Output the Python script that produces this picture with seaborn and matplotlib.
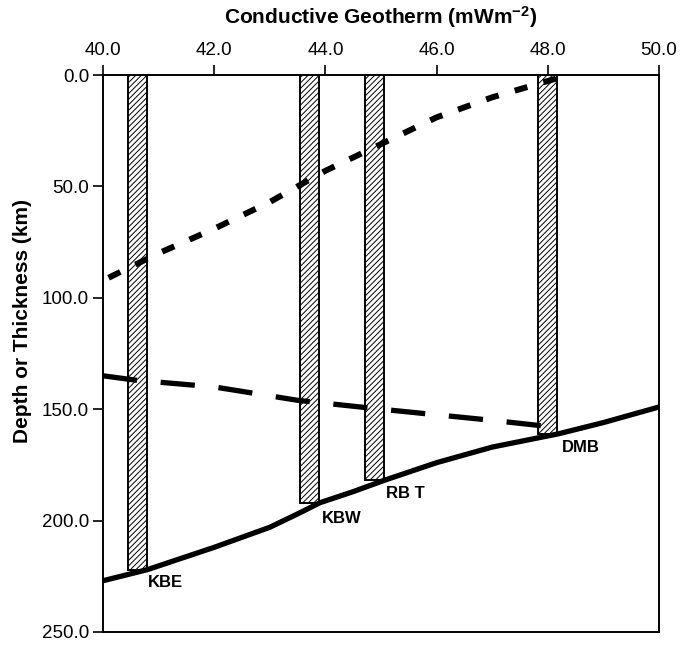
import numpy as np
import pandas as pd
import seaborn as sns
import matplotlib
matplotlib.use("Agg")
import matplotlib.pyplot as plt

# ---- data ----
bar_names = ["KBE", "KBW", "RB T", "DMB"]
bar_x = [40.62, 43.72, 44.89, 48.0]
bar_depth = [222.0, 192.0, 182.0, 161.0]

solid_x = [40.0, 40.8, 42.0, 43.0, 43.5, 43.9, 44.5, 45.05, 46.0, 47.0, 48.2, 49.0, 49.5, 50.0]
solid_y = [227.0, 222.0, 212.0, 203.0, 197.0, 192.0, 187.0, 182.0, 174.0, 167.0, 161.0, 156.0, 152.5, 149.0]

dashed_x = [40.0, 40.6, 42.0, 43.5, 45.0, 46.0, 47.0, 48.1]
dashed_y = [135.0, 137.0, 140.0, 146.0, 150.0, 152.5, 155.0, 158.0]

dotted_x = [40.1, 41.0, 42.0, 43.0, 44.0, 45.0, 46.0, 47.0, 48.3]
dotted_y = [91.0, 80.0, 69.0, 57.0, 43.0, 31.0, 19.0, 10.0, 0.5]

x_ticks = [40.0, 42.0, 44.0, 46.0, 48.0, 50.0]
y_ticks = [0.0, 50.0, 100.0, 150.0, 200.0, 250.0]
x_label = r"Conductive Geotherm (mWm$\mathbf{^{-2}}$)"
y_label = "Depth or Thickness (km)"

# ---- style ----
sns.set_style("white")
plt.rcParams["font.family"] = ["Liberation Sans", "DejaVu Sans"]
plt.rcParams["mathtext.fontset"] = "custom"
plt.rcParams["mathtext.bf"] = "Liberation Sans:bold"
plt.rcParams["mathtext.rm"] = "Liberation Sans"
plt.rcParams["hatch.linewidth"] = 0.7
plt.rcParams["hatch.color"] = "black"
for k in ["text.color", "axes.labelcolor", "xtick.color", "ytick.color"]:
    plt.rcParams[k] = "black"

fig = plt.figure(figsize=(6.92, 6.49), dpi=100)
ax = fig.add_axes([0.1488, 0.0262, 0.8035, 0.8582])

bars_df = pd.DataFrame({"x": bar_x, "depth": bar_depth, "name": bar_names})
min_gap = np.min(np.diff(sorted(bar_x)))
sns.barplot(data=bars_df, x="x", y="depth", native_scale=True, errorbar=None,
            width=0.34 / min_gap, color="white", edgecolor="black",
            linewidth=1.4, ax=ax, zorder=2)
for p in ax.patches:
    p.set_hatch("//////")
    p.set_facecolor("white")

sns.lineplot(x=solid_x, y=solid_y, sort=False, color="black", lw=3.8, ax=ax,
             solid_capstyle="butt", zorder=3)
sns.lineplot(x=dashed_x, y=dashed_y, sort=False, color="black", lw=3.8, ax=ax, zorder=3)
ax.lines[-1].set_dashes((6.5, 4.5))
ax.lines[-1].set_dash_capstyle("butt")
sns.lineplot(x=dotted_x, y=dotted_y, sort=False, color="black", lw=4.3, ax=ax, zorder=3)
ax.lines[-1].set_dashes((2.2, 2.8))
ax.lines[-1].set_dash_capstyle("butt")

label_offsets = [(0.18, 6.0), (0.22, 7.0), (0.2, 6.0), (0.25, 6.0)]
for name, x, d, (dx, dy) in zip(bar_names, bar_x, bar_depth, label_offsets):
    ax.text(x + dx, d + dy, name, fontsize=12, fontweight="bold",
            ha="left", va="center", zorder=4)

ax.set_xlim(40, 50)
ax.set_ylim(250, 0)
ax.set_xticks(x_ticks)
ax.set_xticklabels([f"{v:.1f}" for v in x_ticks])
ax.set_yticks(y_ticks)
ax.set_yticklabels([f"{v:.1f}" for v in y_ticks])
ax.xaxis.tick_top()
ax.xaxis.set_label_position("top")
ax.tick_params(axis="both", direction="out", length=7.5, width=1.2,
               labelsize=13.5, color="black", labelcolor="black")
ax.tick_params(axis="x", top=True, bottom=False, pad=4)
ax.tick_params(axis="y", left=True, right=False, pad=2.5)
ax.set_xlabel(x_label, fontsize=15, fontweight="bold")
ax.set_ylabel(y_label, fontsize=15, fontweight="bold")
ax.xaxis.set_label_coords(0.5, 1.104)
ax.xaxis.label.set_va("center")
ax.yaxis.set_label_coords(-0.144, 0.558)
ax.yaxis.label.set_va("center")
ax.yaxis.label.set_ha("center")
for s in ax.spines.values():
    s.set_visible(True)
    s.set_color("black")
    s.set_linewidth(1.4)

fig.savefig("out.png", dpi=100)
